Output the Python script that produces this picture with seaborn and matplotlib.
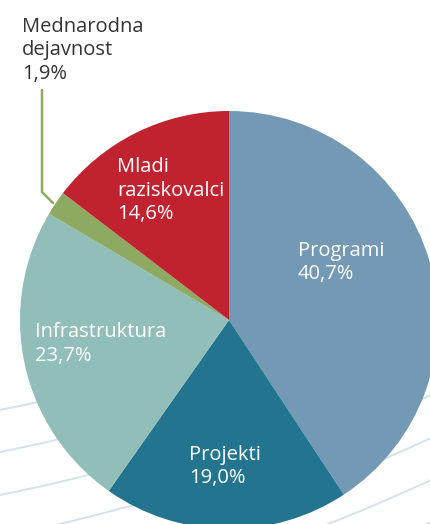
import numpy as np
import matplotlib.pyplot as plt
import seaborn as sns

# Data
categories = ['Programi', 'Projekti', 'Infrastruktura', 'Mednarodna\ndejavnost', 'Mladi\nraziskovalci']
shares = [40.7, 19.0, 23.7, 1.9, 14.6]
pct_labels = ['40,7%', '19,0%', '23,7%', '1,9%', '14,6%']
colors = ['#7399b5', '#23758f', '#91beb8', '#8da962', '#c0222f']

sns.set_theme(style='white')
plt.rcParams['font.family'] = ['Open Sans', 'DejaVu Sans']

W, H = 430, 524
fig = plt.figure(figsize=(W / 100, H / 100), dpi=100)

# background axes in pixel coordinates (decorative wave lines)
bg = fig.add_axes([0, 0, 1, 1])
bg.set_xlim(0, W)
bg.set_ylim(H, 0)
bg.axis('off')
xs = np.linspace(0, W, 200)
for y0 in [410, 452, 495, 537, 580, 622, 664]:
    bg.plot(xs, y0 - 0.2 * xs - 0.0003 * xs ** 2, color='#d3e3ec', lw=1.4, zorder=0)

# pie axes: centre (229, 320), radius 209 px
cx, cy, r = 229, 320, 209
ax = fig.add_axes([(cx - r) / W, (H - cy - r) / H, 2 * r / W, 2 * r / H])
ax.pie(shares, colors=colors, startangle=90, counterclock=False,
       wedgeprops=dict(linewidth=0), radius=1)
ax.set_xlim(-1, 1)
ax.set_ylim(-1, 1)
ax.set_aspect('equal')
ax.axis('off')

# overlay for labels
ov = fig.add_axes([0, 0, 1, 1])
ov.set_xlim(0, W)
ov.set_ylim(H, 0)
ov.axis('off')
ov.patch.set_alpha(0)

label_pos = [(298, 256), (189, 460), (35, 337), (22, 32), (117, 172)]
label_col = ['white', 'white', 'white', '#333333', 'white']
step = 23.5
for cat, pct, (x, y), c in zip(categories, pct_labels, label_pos, label_col):
    lines = cat.split('\n') + [pct]
    for i, line in enumerate(lines):
        ov.text(x, y + i * step, line, color=c, fontsize=14.5, ha='left', va='baseline')

# leader line for the small slice
ov.plot([42, 42, 53], [90, 192, 203], color='#8da962', lw=1.8, solid_joinstyle='miter')

fig.savefig('out.png', dpi=100)
